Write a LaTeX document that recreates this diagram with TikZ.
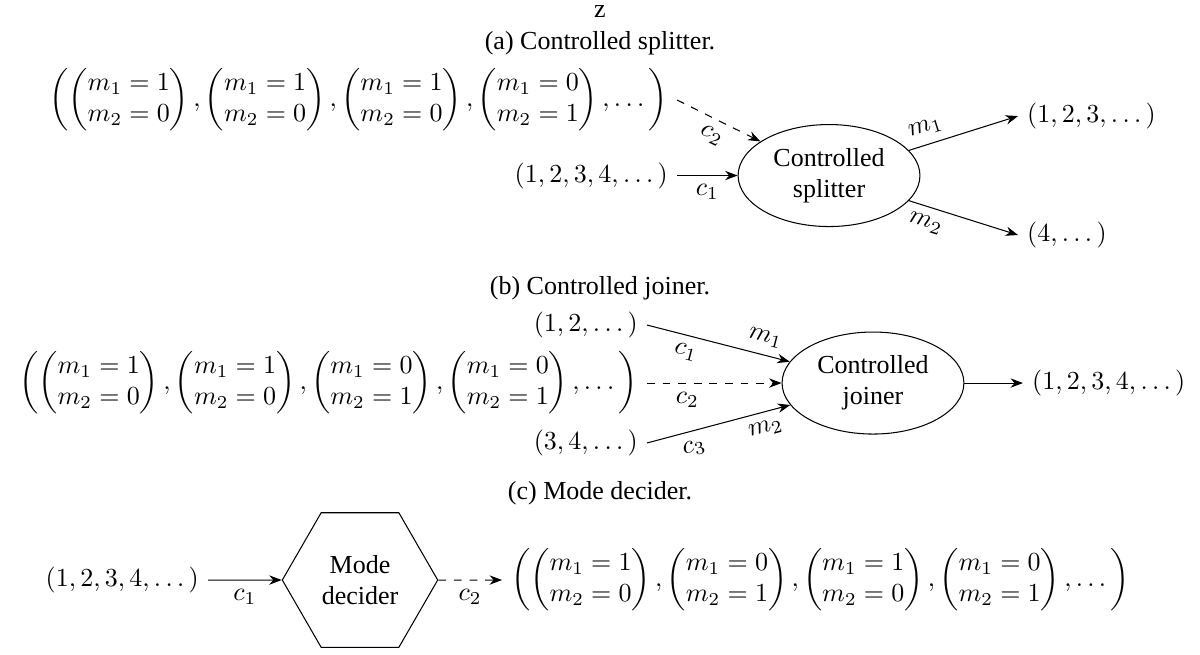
\documentclass[tikz,border=0pt]{standalone}
\usepackage{amsmath}
\usepackage[no-math]{fontspec}
\setmainfont{Liberation Serif}
\usepackage{tikz}
\usetikzlibrary{arrows.meta, positioning, shapes.geometric}

\newcommand{\modevec}[2]{\begin{pmatrix}m_1=#1\\m_2=#2\end{pmatrix}}

\begin{document}
\begin{tikzpicture}[
    bloc/.style={draw, ellipse, align=center},
    hexa/.style={draw, regular polygon, regular polygon sides=6,
                 minimum size=2.1cm, align=center},
    legende/.style={inner sep=1pt},
    fleche/.style={-{Stealth}},
    controle/.style={-{Stealth}, dashed}]

\useasboundingbox (0,0) rectangle (16.216,-8.838);

% Titre
\node[legende] (titre) at (8.108,-0.162) {z};

% (a) Controlled splitter
\node[legende] (legA) at (8.108,-0.581) {(a) Controlled splitter.};
\node[anchor=east] (tupA) at (9.149,-1.351)
    {$\left(\modevec{1}{0},\modevec{1}{0},\modevec{1}{0},\modevec{0}{1},\dots\right)$};
\node[anchor=east] (inA) at (9.149,-2.372) {$(1,2,3,4,\dots)$};
\node[bloc] (split) at (11.203,-2.372) {Controlled\\splitter};
\node[anchor=west] (outA1) at (13.757,-1.568) {$(1,2,3,\dots)$};
\node[anchor=west] (outA2) at (13.757,-3.176) {$(4,\dots)$};

\draw[controle] (tupA.east) -- (split) node[midway, below, sloped] {$c_2$};
\draw[fleche] (inA.east) -- (split) node[midway, below] {$c_1$};
\draw[fleche] (split) -- (outA1.west) node[pos=0.2, above, sloped] {$m_1$};
\draw[fleche] (split) -- (outA2.west) node[pos=0.2, below, sloped] {$m_2$};

% (b) Controlled joiner
\node[legende] (legB) at (8.108,-3.892) {(b) Controlled joiner.};
\node[anchor=east] (jinA) at (8.743,-4.392) {$(1,2,\dots)$};
\node[anchor=east] (tupB) at (8.743,-5.176)
    {$\left(\modevec{1}{0},\modevec{1}{0},\modevec{0}{1},\modevec{0}{1},\dots\right)$};
\node[anchor=east] (jinC) at (8.743,-5.986) {$(3,4,\dots)$};
\node[bloc] (join) at (11.797,-5.176) {Controlled\\joiner};
\node[anchor=west] (outB) at (13.824,-5.176) {$(1,2,3,4,\dots)$};

\draw[fleche] (jinA.east) -- (join)
    node[pos=0.3, below, sloped] {$c_1$} node[pos=0.8, above, sloped] {$m_1$};
\draw[controle] (tupB.east) -- (join) node[pos=0.3, below] {$c_2$};
\draw[fleche] (jinC.east) -- (join)
    node[pos=0.3, below, sloped] {$c_3$} node[pos=0.8, below, sloped] {$m_2$};
\draw[fleche] (join) -- (outB.west);

% (c) Mode decider
\node[legende] (legC) at (8.108,-6.662) {(c) Mode decider.};
\node[anchor=east] (inC) at (2.811,-7.838) {$(1,2,3,4,\dots)$};
\node[hexa] (decide) at (4.865,-7.838) {Mode\\decider};
\node[anchor=west] (outC) at (6.784,-7.838)
    {$\left(\modevec{1}{0},\modevec{0}{1},\modevec{1}{0},\modevec{0}{1},\dots\right)$};

\draw[fleche] (inC.east) -- (decide) node[midway, below] {$c_1$};
\draw[controle] (decide) -- (outC.west) node[midway, below] {$c_2$};

\end{tikzpicture}
\end{document}
